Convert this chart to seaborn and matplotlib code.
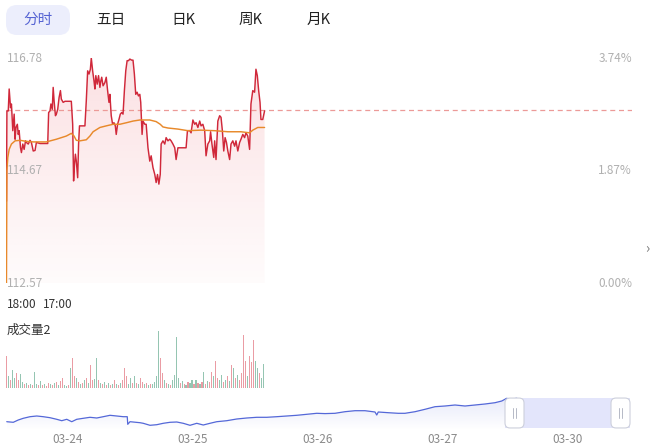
import numpy as np
import matplotlib
matplotlib.use('Agg')
import matplotlib.pyplot as plt
import matplotlib.colors as mcolors
import matplotlib.transforms as mtransforms
from matplotlib.patches import FancyBboxPatch
import seaborn as sns

# ---- data: intraday session (minutes after 18:00) ----
price_minute = [1, 2, 5, 7, 10, 12, 15, 18, 20, 22,
                25, 27, 29, 32, 34, 37, 40, 43, 45, 49,
                53, 56, 60, 64, 67, 75, 82, 92, 94, 97,
                99, 102, 104, 106, 109, 111, 114, 117, 120, 122,
                126, 130, 137, 144, 147, 149, 151, 153, 155, 158,
                160, 162, 166, 174, 177, 180, 183, 186, 188, 191,
                194, 196, 198, 201, 204, 207, 209, 211, 214, 218,
                221, 224, 227, 229, 232, 235, 238, 241, 243, 246,
                249, 252, 255, 258, 261, 264, 267, 270, 273, 277,
                280, 283, 286, 289, 292, 295, 297, 300, 302, 306,
                309, 313, 317, 320, 324, 328, 331, 334, 337, 340,
                342, 346, 350, 353, 357, 361, 364, 368, 372, 375,
                379, 386, 397, 400, 405, 408, 412, 416, 419, 423,
                427, 430, 434, 438, 441, 445, 449, 451, 454, 458,
                460, 463, 467, 471, 474, 477, 480, 483, 486, 489,
                493, 496, 500, 504, 507, 511, 515, 518, 522, 526,
                529, 533, 537, 540, 544, 548, 551, 554, 557, 560,
                562, 566, 570]
price = [114.10, 115.79, 115.79, 116.20, 115.85, 115.92, 115.42, 115.73, 115.26, 115.48,
         115.54, 115.35, 115.42, 115.10, 115.01, 115.17, 115.07, 115.23, 115.20, 115.17,
         115.24, 115.20, 115.04, 115.05, 115.20, 115.18, 115.18, 115.18, 115.76, 115.79,
         115.92, 115.82, 116.23, 115.98, 115.70, 115.73, 115.82, 116.04, 116.17, 116.01,
         115.95, 115.97, 115.97, 115.97, 115.54, 114.48, 114.79, 114.98, 114.85, 114.54,
         115.17, 115.51, 115.51, 115.51, 115.98, 116.54, 116.48, 116.57, 116.78, 116.54,
         116.35, 116.20, 116.45, 116.29, 116.45, 116.23, 116.35, 116.42, 116.26, 116.32,
         116.42, 116.17, 115.95, 116.10, 115.70, 115.54, 115.57, 115.51, 115.35, 115.54,
         115.63, 115.73, 115.76, 115.73, 116.17, 116.54, 116.73, 116.73, 116.76, 116.74,
         116.74, 116.48, 116.10, 116.14, 116.07, 116.10, 115.95, 115.35, 115.60, 115.54,
         115.54, 115.10, 114.85, 114.95, 114.73, 114.60, 114.45, 114.60, 114.42, 114.60,
         115.17, 115.23, 115.17, 115.29, 115.23, 115.26, 115.23, 115.17, 115.10, 114.88,
         115.10, 115.10, 115.10, 115.42, 115.42, 115.38, 115.62, 115.54, 115.57, 115.48,
         115.60, 115.51, 115.54, 115.42, 114.95, 115.17, 115.23, 115.40, 115.17, 114.92,
         115.23, 114.88, 115.60, 115.70, 115.67, 115.42, 115.04, 115.29, 115.20, 115.04,
         114.88, 115.17, 115.23, 115.13, 115.23, 115.04, 115.20, 115.26, 115.35, 115.29,
         115.38, 115.32, 115.07, 115.92, 116.17, 116.14, 116.57, 116.45, 116.17, 115.95,
         115.63, 115.63, 115.79]

avg_minute = [1, 2, 4, 7, 12, 20, 31, 45, 60, 89,
              111, 133, 144, 150, 155, 163, 177, 185, 192, 207,
              221, 236, 251, 266, 280, 295, 317, 331, 340, 346,
              357, 379, 401, 430, 460, 489, 518, 537, 544, 555, 570]
avg_price = [112.57, 114.67, 114.92, 115.07, 115.17, 115.23, 115.24, 115.22, 115.21, 115.21,
             115.26, 115.32, 115.37, 115.32, 115.24, 115.23, 115.25, 115.32, 115.40, 115.48,
             115.51, 115.54, 115.54, 115.57, 115.60, 115.62, 115.62, 115.59, 115.54, 115.49,
             115.47, 115.45, 115.42, 115.43, 115.42, 115.40, 115.40, 115.38, 115.43, 115.48, 115.48]

ref_price = 115.80
price_low, price_mid, price_high = 112.57, 114.67, 116.78
session_minutes = 1380  # 18:00 -> 17:00

volume = [32, 12, 8, 18, 10, 15, 8, 14, 6, 4,
          5, 3, 4, 3, 16, 4, 3, 7, 3, 4,
          2, 5, 4, 3, 5, 6, 3, 7, 10, 3,
          2, 3, 20, 30, 12, 10, 6, 4, 5, 8,
          10, 5, 23, 8, 9, 30, 8, 5, 4, 6,
          3, 5, 3, 4, 8, 4, 3, 5, 8, 20,
          12, 4, 10, 5, 12, 5, 4, 10, 6, 4,
          5, 3, 4, 4, 6, 12, 57, 30, 15, 8,
          5, 4, 3, 8, 13, 51, 10, 5, 7, 4,
          3, 6, 5, 8, 4, 8, 5, 4, 6, 16,
          4, 7, 6, 16, 12, 27, 10, 8, 13, 6,
          8, 12, 7, 23, 20, 10, 13, 8, 15, 53,
          27, 12, 32, 26, 48, 27, 20, 15, 10, 24]
vol_dir = ("rgrggrrggr" "grgrggrgrg" "rrgrgrgrrg" "grgrrgrgrg" "rgrrggrgrg"
           "rgrgrgrgrr" "rggrgrgrrg" "rgrggggrrg" "rgrggggrgr" "grggrgrgrg"
           "rgrrgrrggr" "grgrgrgrrr" "rgrrrggrgg")

# ---- navigator (5 sessions) ----
nav_day = [0.014, 0.066, 0.106, 0.146, 0.2, 0.254, 0.306, 0.36, 0.414, 0.454,
           0.494, 0.534, 0.574, 0.626, 0.68, 0.734, 0.786, 0.84, 0.894, 0.946,
           0.978, 0.982, 1.0, 1.08, 1.106, 1.16, 1.214, 1.266, 1.32, 1.374,
           1.426, 1.48, 1.534, 1.586, 1.64, 1.694, 1.774, 1.854, 1.934, 2.014,
           2.094, 2.174, 2.254, 2.334, 2.414, 2.494, 2.56, 2.64, 2.72, 2.8,
           2.88, 2.96, 2.974, 2.986, 3.066, 3.146, 3.2, 3.28, 3.36, 3.44,
           3.52, 3.6, 3.68, 3.76, 3.84, 3.92, 3.974, 4.014, 4.04, 4.094]
nav_price = [105.55, 105.37, 106.06, 106.57, 107.05, 107.26, 107.05, 106.75, 106.27, 105.85,
             106.27, 105.55, 106.27, 106.57, 106.87, 106.66, 107.05, 107.47, 107.26, 107.05,
             107.05, 104.77, 105.55, 105.25, 105.07, 104.47, 104.65, 105.07, 105.37, 105.46,
             105.07, 104.47, 105.07, 104.56, 105.07, 105.55, 105.85, 106.36, 106.66, 106.87,
             106.87, 107.05, 107.26, 107.47, 107.77, 108.07, 107.98, 108.07, 108.55, 108.85,
             108.85, 108.46, 107.56, 108.46, 108.25, 108.07, 108.07, 108.55, 109.27, 110.05,
             110.26, 110.56, 110.26, 110.56, 110.86, 111.25, 111.76, 112.57, 112.27, 112.57]
nav_dates = ['03-24', '03-25', '03-26', '03-27', '03-30']
nav_sel = (4.0, 5.0)

tabs = ['分时', '五日', '日K', '周K', '月K']

# ---- style ----
sns.set_theme(style='white')
plt.rcParams['font.family'] = ['Noto Sans CJK SC', 'DejaVu Sans']

W, H = 650, 448
fig = plt.figure(figsize=(W / 100, H / 100), dpi=100)
px = mtransforms.Affine2D().scale(1 / W, -1 / H).translate(0, 1) + fig.transFigure


def box(x0, y0, x1, y1):
    return [x0 / W, 1 - y1 / H, (x1 - x0) / W, (y1 - y0) / H]


def gradient_fill(ax, x, y, base, color, a_top, a_bot):
    x = np.asarray(x)
    y = np.asarray(y)
    poly = ax.fill_between(x, y, base, color='none', lw=0)
    rgba = np.zeros((200, 1, 4))
    rgba[..., :3] = mcolors.to_rgb(color)
    rgba[..., 3] = np.linspace(a_top, a_bot, 200)[:, None]
    im = ax.imshow(rgba, aspect='auto', origin='upper', zorder=1,
                   extent=[x.min(), x.max(), base, y.max()], interpolation='bilinear')
    im.set_clip_path(poly.get_paths()[0], transform=ax.transData)


# tabs
fig.patches.append(FancyBboxPatch((6, 5), 64, 30, boxstyle='round,pad=0,rounding_size=11',
                                  transform=px, facecolor='#eceefc', edgecolor='none', figure=fig))
for lab, xc in zip(tabs, [38, 111, 183, 251, 319]):
    fig.text(xc, 20, lab, transform=px, ha='center', va='center', fontsize=10.5,
             color='#5563d3' if lab == '分时' else '#222222')

# main price chart
ax = fig.add_axes(box(6, 58, 632, 283))
gradient_fill(ax, price_minute, price, price_low, '#e8414f', 0.16, 0.02)
sns.lineplot(x=price_minute, y=price, ax=ax, color='#d0283a', lw=1.05, estimator=None, zorder=3)
sns.lineplot(x=avg_minute, y=avg_price, ax=ax, color='#e8892b', lw=1.05, estimator=None, zorder=4)
ax.axhline(ref_price, color='#ec9a98', lw=0.9, ls=(0, (4, 3)), zorder=2)
ax.set_xlim(0, session_minutes)
ax.set_ylim(price_low, price_high)
ax.axis('off')

blend = mtransforms.blended_transform_factory(ax.transAxes, ax.transData)
for v in [price_high, price_mid, price_low]:
    ax.text(0.0015, v, f'{v:.2f}', transform=blend, ha='left', va='center',
            fontsize=8.5, color='#b0b0b0', zorder=6)
    pct = (v - price_low) / price_low * 100
    ax.text(1.0, v, f'{pct:.2f}%', transform=blend, ha='right', va='center',
            fontsize=8.5, color='#b0b0b0')

fig.text(647, 248, '›', transform=px, ha='center', va='center', fontsize=10, color='#777777')
fig.text(7, 305, '18:00', transform=px, ha='left', va='center', fontsize=8.5, color='#333333')
fig.text(43, 305, '17:00', transform=px, ha='left', va='center', fontsize=8.5, color='#333333')
fig.text(7, 330, '成交量2', transform=px, ha='left', va='center', fontsize=9, color='#333333')

# volume
axv = fig.add_axes(box(6, 331, 632, 388))
vol_minute = np.linspace(2, 568, len(volume))
bar_colors = ['#dc5a68' if d == 'r' else '#4f9f80' for d in vol_dir]
axv.bar(vol_minute, volume, width=2.4, color=bar_colors, alpha=0.6, linewidth=0)
axv.set_xlim(0, session_minutes)
axv.set_ylim(0, max(volume))
axv.axis('off')

# navigator
axn = fig.add_axes(box(5, 396, 630, 430))
nav_lo, nav_hi = 103.06, 113.26
gradient_fill(axn, nav_day, nav_price, nav_lo, '#6b7be0', 0.16, 0.0)
sns.lineplot(x=nav_day, y=nav_price, ax=axn, color='#5468d8', lw=0.9, estimator=None, zorder=3)
axn.set_xlim(0, 5)
axn.set_ylim(nav_lo, nav_hi)
axn.axvspan(nav_sel[0], nav_sel[1], ymin=0.06, ymax=0.94, color='#e3e5fb', lw=0, zorder=0)
for s in axn.spines.values():
    s.set_visible(False)
axn.set_yticks([])
axn.set_xticks([i + 0.5 for i in range(len(nav_dates))])
axn.set_xticklabels(nav_dates, fontsize=8.5, color='#8a8a8a')
axn.tick_params(axis='x', length=0, pad=2)
axn.set_xlabel('')
axn.set_ylabel('')

hw = 19 / 625
for x0 in [nav_sel[0] / 5, nav_sel[1] / 5 - hw]:
    axn.add_patch(FancyBboxPatch((x0, 0.06), hw, 0.88, boxstyle='round,pad=0,rounding_size=0.008',
                                 mutation_aspect=625 / 34, transform=axn.transAxes,
                                 facecolor='white', edgecolor='#cdd0dc', lw=0.8, zorder=5,
                                 clip_on=False))
    for dx in (-1.6 / 625, 1.6 / 625):
        axn.plot([x0 + hw / 2 + dx] * 2, [0.36, 0.64], transform=axn.transAxes,
                 color='#b5b9c6', lw=0.7, zorder=6, clip_on=False)

fig.savefig('out.png', dpi=100)
